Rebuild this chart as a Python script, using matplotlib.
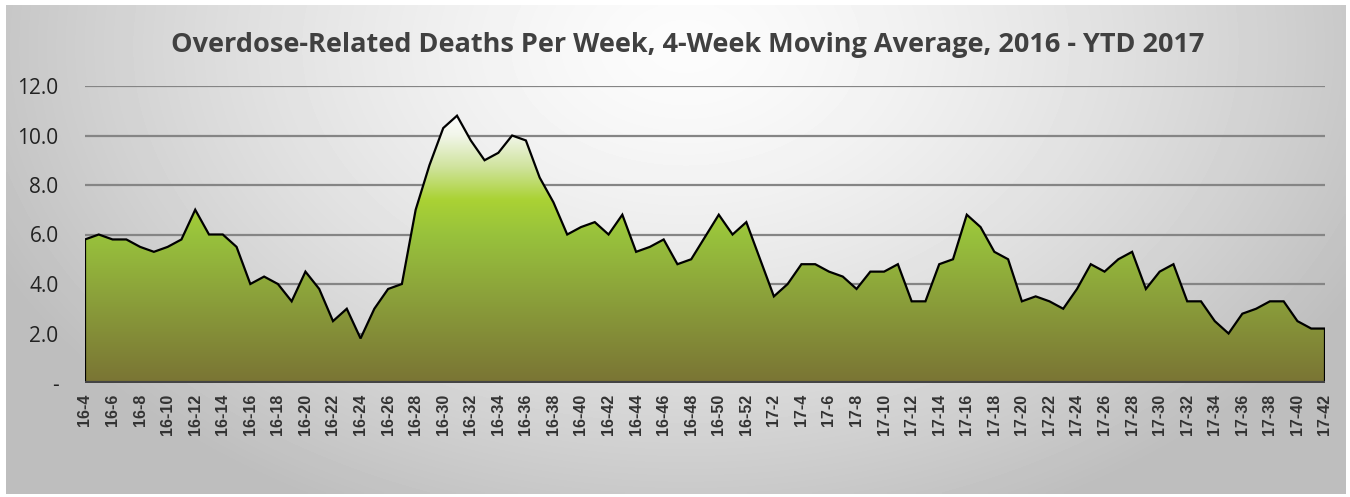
import numpy as np
import matplotlib
matplotlib.use("Agg")
import matplotlib.pyplot as plt
from matplotlib.colors import LinearSegmentedColormap

# week labels: 2016 weeks 4-52, 2017 weeks 1-42
weeks_2016 = list(range(4, 53))
weeks_2017 = list(range(1, 43))
labels = ['16-%d' % w for w in weeks_2016] + ['17-%d' % w for w in weeks_2017]

deaths = [5.8, 6.0, 5.8, 5.8, 5.5, 5.3, 5.5, 5.8, 7.0, 6.0,
          6.0, 5.5, 4.0, 4.3, 4.0, 3.3, 4.5, 3.8, 2.5, 3.0,
          1.8, 3.0, 3.8, 4.0, 7.0, 8.8, 10.3, 10.8, 9.8, 9.0,
          9.3, 10.0, 9.8, 8.3, 7.3, 6.0, 6.3, 6.5, 6.0, 6.8,
          5.3, 5.5, 5.8, 4.8, 5.0, 5.9, 6.8, 6.0, 6.5, 5.0,
          3.5, 4.0, 4.8, 4.8, 4.5, 4.3, 3.8, 4.5, 4.5, 4.8,
          3.3, 3.3, 4.8, 5.0, 6.8, 6.3, 5.3, 5.0, 3.3, 3.5,
          3.3, 3.0, 3.8, 4.8, 4.5, 5.0, 5.3, 3.8, 4.5, 4.8,
          3.3, 3.3, 2.5, 2.0, 2.8, 3.0, 3.3, 3.3, 2.5, 2.2,
          2.2]

W, H = 1350, 497
fig = plt.figure(figsize=(W / 100, H / 100), dpi=100)
fig.patch.set_facecolor('white')

# grey panel with a soft radial highlight
bg = fig.add_axes([6 / W, 1 - 494 / H, 1340 / W, 489 / H])
gx, gy = np.meshgrid(np.linspace(0, 1340, 400), np.linspace(0, 489, 150))
d = np.sqrt(((gx - 680) / 760) ** 2 + ((gy - 40) / 520) ** 2)
shade = 252 - 62 * np.clip(d, 0, 1) ** 1.4
bg.imshow(shade, cmap='gray', vmin=0, vmax=255, aspect='auto',
          extent=[0, 1340, 489, 0], interpolation='bilinear')
bg.set_axis_off()

ax = fig.add_axes([85 / W, 1 - 383 / H, 1240 / W, 297 / H])
ax.patch.set_alpha(0)
x = np.arange(len(deaths))

ax.set_ylim(0, 12)
ax.set_xlim(0, len(deaths) - 1)
for v in [2, 4, 6, 8, 10, 12]:
    ax.axhline(v, color='#858585', lw=1.6, zorder=1)

fill = ax.fill_between(x, deaths, 0, color='none', zorder=2)
green = LinearSegmentedColormap.from_list('g', [
    (0.0, '#7a7434'), (0.3, '#8a9e3a'), (0.55, '#98c23c'),
    (0.68, '#aad234'), (0.8, '#cfe39c'), (0.92, '#f2f6ea'), (1.0, '#ffffff')])
grad = np.linspace(0, 1, 256).reshape(-1, 1)
img = ax.imshow(grad, cmap=green, origin='lower', aspect='auto',
                extent=[0, len(deaths) - 1, 0, 10.9], zorder=2)
img.set_clip_path(fill.get_paths()[0], transform=ax.transData)
ax.set_xlim(0, len(deaths) - 1)
ax.set_ylim(0, 12)

ax.plot(np.r_[0, x, x[-1]], np.r_[0, deaths, 0], color='black', lw=1.6, zorder=3,
        solid_joinstyle='miter')
ax.axhline(0, color='#444444', lw=3, zorder=4)

for s in ax.spines.values():
    s.set_visible(False)
ax.set_yticks([0, 2, 4, 6, 8, 10, 12])
ax.set_yticklabels(['-', '2.0', '4.0', '6.0', '8.0', '10.0', '12.0'],
                   fontsize=15, color='#222222', family='Open Sans')
ax.set_xticks(x[::2])
ax.set_xticklabels(labels[::2], rotation=90, fontsize=11.5, fontweight='bold',
                   color='#333333', family='Liberation Sans')
ax.tick_params(axis='both', length=0)
ax.tick_params(axis='y', pad=19)
ax.tick_params(axis='x', pad=8)

fig.text(688 / W, 1 - 45 / H, 'Overdose-Related Deaths Per Week, 4-Week Moving Average, 2016 - YTD 2017',
         ha='center', va='center', fontsize=19.5, fontweight='bold', color='#404040',
         family='Open Sans')

fig.savefig('out.png', dpi=100)
